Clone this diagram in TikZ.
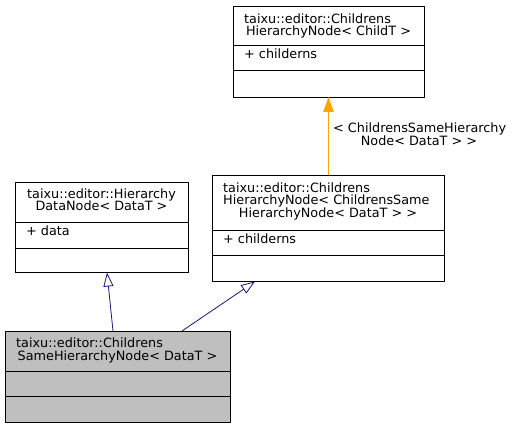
\documentclass[tikz,border=0pt]{standalone}
\usepackage{fontspec}
\setmainfont{DejaVu Sans}
\newfontfamily\dvsbig{DejaVu Sans}[Scale=1.28]
\usetikzlibrary{arrows.meta}
\definecolor{edgeblue}{HTML}{191970}
\definecolor{edgeorange}{HTML}{FFA500}
\definecolor{curfill}{HTML}{BFBFBF}
\begin{document}
\begin{tikzpicture}[x=1pt,y=-1pt,
  classbox/.style={draw=black, line width=0.9pt, inner sep=0, fill=white},
  curbox/.style={classbox, fill=curfill},
  divider/.style={draw=black, line width=0.9pt},
  txt/.style={inner sep=0, font=\dvsbig, text=black},
  lw/.style={txt, anchor=base west},
  lc/.style={txt, anchor=base},
  inh/.style={draw=edgeblue, line width=0.8pt, -{Triangle[open, length=14pt, width=10pt, fill=white]}},
  tmpl/.style={draw=edgeorange, line width=0.9pt, -{Triangle[length=15pt, width=10.5pt]}}
]
\useasboundingbox (0,0) rectangle (515,428);

% Box A: ChildrensHierarchyNode< ChildT >
\node[classbox, minimum width=191pt, minimum height=91pt] (A) at (328.5,51.5) {};
\draw[divider] (A.west |- 0,45.5) -- (A.east |- 0,45.5);
\draw[divider] (A.west |- 0,70.5) -- (A.east |- 0,70.5);
\node[lw] (A1) at (244,23.3) {taixu::editor::Childrens};
\node[lc] (A2) at (328.5,35.8) {HierarchyNode< ChildT >};
\node[lw] (A3) at (244,58.3) {+ childerns};

% Box B: HierarchyDataNode< DataT >
\node[classbox, minimum width=173pt, minimum height=90pt] (B) at (101.5,227) {};
\draw[divider] (B.west |- 0,222) -- (B.east |- 0,222);
\draw[divider] (B.west |- 0,248) -- (B.east |- 0,248);
\node[lc] (B1) at (101.5,198.5) {taixu::editor::Hierarchy};
\node[lc] (B2) at (101.5,211) {DataNode< DataT >};
\node[lw] (B3) at (26,235) {+ data};

% Box C: ChildrensHierarchyNode< ChildrensSameHierarchyNode< DataT > >
\node[classbox, minimum width=232pt, minimum height=106pt] (C) at (328,228) {};
\draw[divider] (C.west |- 0,230) -- (C.east |- 0,230);
\draw[divider] (C.west |- 0,255) -- (C.east |- 0,255);
\node[lw] (C1) at (223,192.3) {taixu::editor::Childrens};
\node[lw] (C2) at (223,204.8) {HierarchyNode< ChildrensSame};
\node[lc] (C3) at (328,217.3) {HierarchyNode< DataT > >};
\node[lw] (C4) at (223,243.5) {+ childerns};

% Box D: ChildrensSameHierarchyNode< DataT >
\node[curbox, minimum width=225pt, minimum height=91pt] (D) at (117.5,376.5) {};
\draw[divider] (D.west |- 0,371) -- (D.east |- 0,371);
\draw[divider] (D.west |- 0,396) -- (D.east |- 0,396);
\node[lw] (D1) at (16,347.5) {taixu::editor::Childrens};
\node[lc] (D2) at (117.5,360) {SameHierarchyNode< DataT >};

% connectors
\coordinate (Dt1) at (113,331);
\coordinate (Bb1) at (107,272.5);
\coordinate (Dt2) at (182,331);
\coordinate (Cb1) at (255,281.5);
\draw[inh] (Dt1) -- (Bb1);
\draw[inh] (Dt2) -- (Cb1);

\coordinate (Ct) at (328.5,175);
\coordinate (Ab) at (328.5,97);
\draw[tmpl] (Ct) -- (Ab);
\node[lw] (L1) at (333,132.3) {< ChildrensSameHierarchy};
\node[lc] (L2) at (419,145.7) {Node< DataT > >};
\end{tikzpicture}
\end{document}
